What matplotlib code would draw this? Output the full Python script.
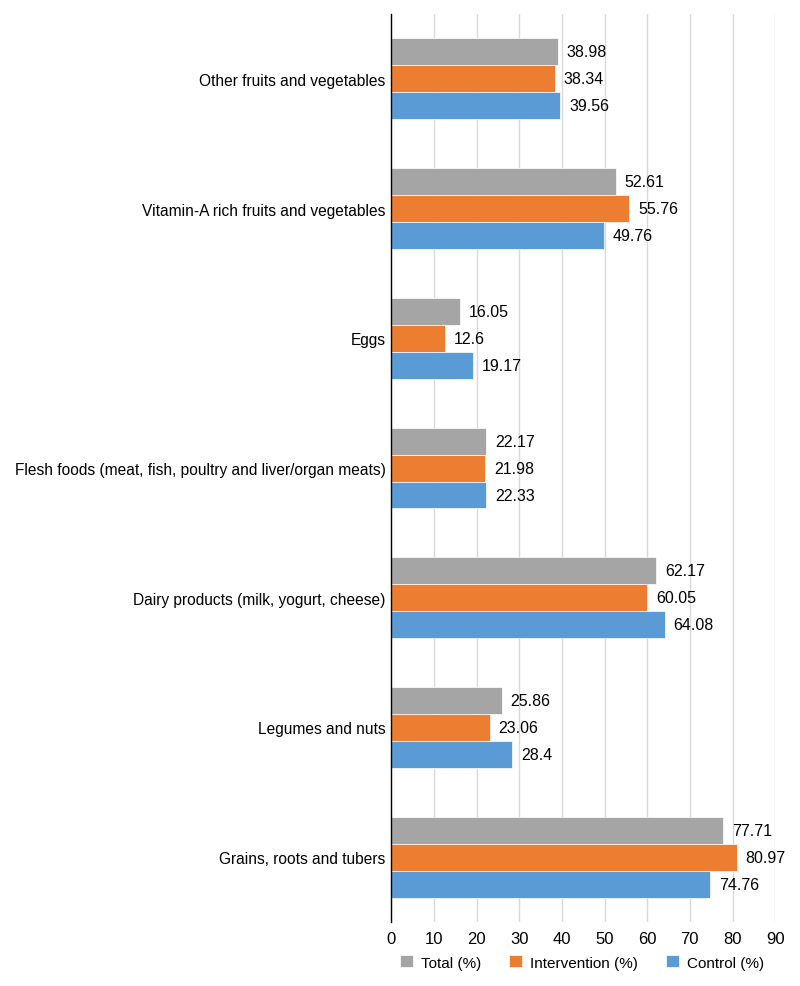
import numpy as np
import matplotlib
matplotlib.use("Agg")
from matplotlib import pyplot as plt

plt.rcParams['font.family'] = ['Liberation Sans', 'DejaVu Sans']

# categories listed bottom to top
categories = ["Grains, roots and tubers",
              "Legumes and nuts",
              "Dairy products (milk, yogurt, cheese)",
              "Flesh foods (meat, fish, poultry and liver/organ meats)",
              "Eggs",
              "Vitamin-A rich fruits and vegetables",
              "Other fruits and vegetables"]
total = [77.71, 25.86, 62.17, 22.17, 16.05, 52.61, 38.98]
intervention = [80.97, 23.06, 60.05, 21.98, 12.6, 55.76, 38.34]
control = [74.76, 28.4, 64.08, 22.33, 19.17, 49.76, 39.56]

series = [("Total (%)", total, "#A5A5A5"),
          ("Intervention (%)", intervention, "#ED7D31"),
          ("Control (%)", control, "#5B9BD5")]

fig = plt.figure(figsize=(8, 9.87), dpi=100)
ax = fig.add_axes([0.489, 0.0648, 0.48, 0.92])

y = np.arange(len(categories))
h = 0.208
offsets = [h, 0, -h]

for (name, vals, col), off in zip(series, offsets):
    bars = ax.barh(y + off, vals, height=h, color=col, label=name,
                   edgecolor="white", linewidth=0.5, zorder=3)
    for b, v in zip(bars, vals):
        ax.annotate(f"{v:g}", (b.get_width(), b.get_y() + h / 2),
                    xytext=(6.5, 0), textcoords="offset points",
                    va="center", ha="left", fontsize=11.5)

ax.set_xlim(0, 90)
ax.set_ylim(-0.5, len(categories) - 0.5)
ax.set_xticks(np.arange(0, 91, 10))
ax.set_yticks(y)
ax.set_yticklabels(categories, fontsize=11.2)
ax.tick_params(axis="x", labelsize=12, length=0, pad=6.5)
ax.tick_params(axis="y", length=0, pad=4)
ax.grid(axis="x", color="#D9D9D9", linewidth=1, zorder=0)
for s in ["top", "right", "bottom"]:
    ax.spines[s].set_visible(False)
ax.spines["left"].set_color("black")
ax.spines["left"].set_linewidth(1)
ax.spines["left"].set_zorder(4)

fig.legend(loc="center", bbox_to_anchor=(0.7275, 0.024), ncol=3,
           frameon=False, fontsize=11, handlelength=0.85, handleheight=0.85,
           columnspacing=1.8, handletextpad=0.55)

plt.savefig("out.png", dpi=100)
